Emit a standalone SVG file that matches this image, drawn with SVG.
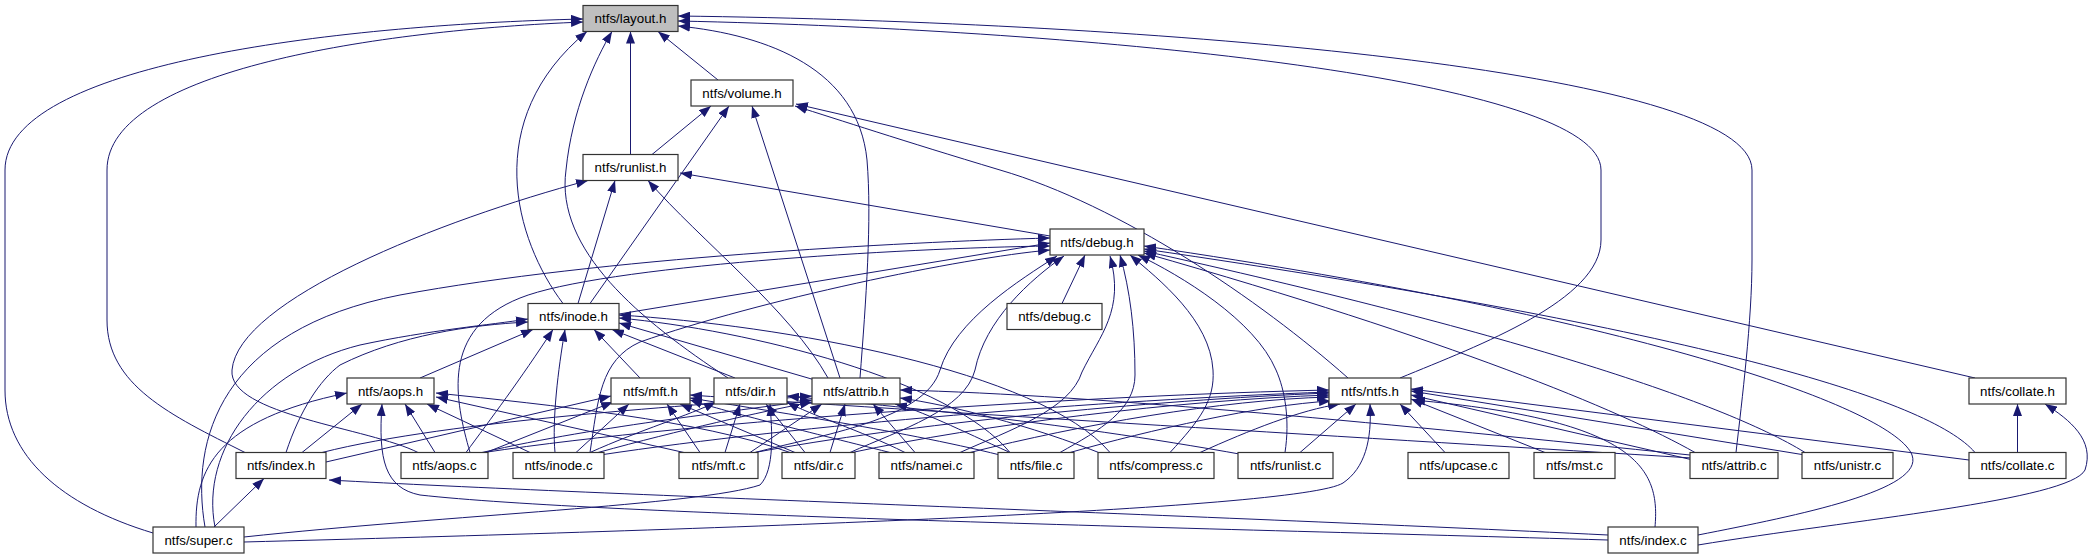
<svg xmlns="http://www.w3.org/2000/svg" width="2091" height="560" viewBox="0 0 2091 560">
<defs>
<marker id="arr" markerUnits="userSpaceOnUse" markerWidth="12" markerHeight="9" refX="12" refY="4.5" orient="auto">
<path d="M0,0 L12,4.5 L0,9 z" fill="#191970"/>
</marker>
<style>
.node rect{fill:#fff;stroke:#333;stroke-width:1.2}
.node.root rect{fill:#bfbfbf}
.node text{font-family:"Liberation Sans",Arial,sans-serif;font-size:13.33px;text-anchor:middle;fill:#000}
.edges path{fill:none;stroke:#191970;stroke-width:1;marker-end:url(#arr)}
</style>
</defs>
<rect width="2091" height="560" fill="#fff"/>
<g id="edges" class="edges">
<path d="M718,80 L658,31.5"/>
<path d="M630.5,154.5 L630.5,31.5"/>
<path d="M563,303.5 C515,240 480,120 587,31.5"/>
<path d="M728,378 C640,320 555,250 566,170 C572,110 595,60 612,31.5"/>
<path d="M860,378 C866,300 872,220 867,160 C858,70 770,35 678,26"/>
<path d="M1400,378 C1480,345 1601,300 1601,240 L1601,170 C1601,80 1100,30 678,21"/>
<path d="M1736,452.5 C1742,400 1752,320 1752,260 L1752,170 C1752,70 1150,22 678,16"/>
<path d="M245,452.5 C170,415 107,385 107,320 L107,170 C107,70 380,30 583,22"/>
<path d="M153,533 C60,505 5,455 5,390 L5,170 C5,65 330,25 583,19"/>
<path d="M652,154.5 L711,106"/>
<path d="M590,303.5 L729,106"/>
<path d="M840,378 L752,106"/>
<path d="M1348,378 C1260,300 1120,205 1000,170 C900,140 840,120 795,106"/>
<path d="M1975,378 L796,104"/>
<path d="M1050,236 L680,173"/>
<path d="M578,303.5 L615,180.5"/>
<path d="M828,378 C790,310 700,240 648,180.5"/>
<path d="M418,452.5 C370,428 228,415 232,370 C238,300 440,220 588,180.5"/>
<path d="M619,314 L1050,243"/>
<path d="M1062,303.5 L1085,255"/>
<path d="M470,452.5 C455,400 440,330 520,298 C600,266 900,248 1050,246"/>
<path d="M205,527 C190,440 220,330 400,295 C600,258 900,242 1050,238"/>
<path d="M590,452.5 C598,400 600,360 640,342 C760,300 960,258 1050,250"/>
<path d="M755,452.5 C820,435 925,420 940,370 C955,320 1020,280 1057,256"/>
<path d="M850,452.5 C900,430 965,410 975,370 C985,320 1030,280 1064,256"/>
<path d="M960,452.5 C1010,430 1070,410 1082,372 C1100,335 1125,310 1110,256"/>
<path d="M1060,452.5 C1100,430 1135,410 1135,375 C1135,330 1130,290 1120,255"/>
<path d="M1170,452.5 C1200,420 1215,400 1213,370 C1210,320 1160,280 1130,255"/>
<path d="M1285,452.5 C1290,420 1285,390 1276,370 C1255,320 1180,275 1138,255"/>
<path d="M1695,452.5 C1620,410 1450,340 1144,253"/>
<path d="M1805,452.5 C1720,400 1500,330 1144,251"/>
<path d="M1975,452.5 C1930,400 1700,330 1144,249"/>
<path d="M1698,535 C1800,515 1925,490 1912,455 C1895,410 1650,320 1144,246"/>
<path d="M420,378 L533,329.5"/>
<path d="M640,378 L594,329.5"/>
<path d="M735,378 L612,329.5"/>
<path d="M815,380 L619,323"/>
<path d="M286,452.5 C300,410 320,380 340,365 C400,335 470,325 528,322"/>
<path d="M466,452.5 C490,420 520,380 553,329.5"/>
<path d="M555,452.5 C552,420 558,370 565,329.5"/>
<path d="M1010,452.5 C950,380 750,330 619,318"/>
<path d="M1110,452.5 C1040,370 780,325 619,315"/>
<path d="M215,527 C200,450 260,370 360,345 C430,330 490,325 528,319"/>
<path d="M302,452.5 L362,404"/>
<path d="M435,452.5 L405,404"/>
<path d="M530,452.5 L427,404"/>
<path d="M684,452.5 L436,397"/>
<path d="M790,452.5 C700,420 550,405 436,393"/>
<path d="M196,527 C195,470 215,420 347,393"/>
<path d="M1608,540 C1200,528 600,515 420,495 C385,488 378,460 382,404"/>
<path d="M326,462 L611,396"/>
<path d="M486,452.5 L613,402"/>
<path d="M576,452.5 L629,404"/>
<path d="M700,452.5 L667,404"/>
<path d="M795,452.5 L680,404"/>
<path d="M890,452.5 C800,430 720,410 690,400"/>
<path d="M1000,455 C900,430 750,408 690,398"/>
<path d="M1692,458 C1400,440 900,410 690,395"/>
<path d="M590,452.5 C640,430 690,415 716,402"/>
<path d="M725,452.5 L740,404"/>
<path d="M805,452.5 L766,404"/>
<path d="M905,452.5 C860,430 810,415 787,402"/>
<path d="M1245,455 C1050,420 880,405 787,396"/>
<path d="M244,537 C450,515 700,505 760,485 C775,470 772,430 770,404"/>
<path d="M322,452.5 C450,420 700,405 812,396"/>
<path d="M482,452.5 C600,425 750,410 812,400"/>
<path d="M598,452.5 C680,430 760,412 812,402"/>
<path d="M750,452.5 L822,404"/>
<path d="M830,452.5 L845,404"/>
<path d="M915,452.5 L873,404"/>
<path d="M1010,452.5 C960,430 920,410 895,404"/>
<path d="M1105,455 C1030,425 950,405 900,398"/>
<path d="M1690,455 C1400,425 1100,395 900,390"/>
<path d="M484,452.5 C700,420 1100,395 1329,390"/>
<path d="M600,455 C800,425 1100,400 1329,392"/>
<path d="M755,452.5 C900,425 1150,400 1329,393"/>
<path d="M852,452.5 C980,425 1180,400 1329,395"/>
<path d="M970,452.5 C1080,425 1220,400 1329,397"/>
<path d="M1070,452.5 C1150,430 1260,405 1331,401"/>
<path d="M1200,452.5 C1250,430 1300,410 1340,404"/>
<path d="M1300,452.5 L1356,404"/>
<path d="M244,542 C700,530 1300,510 1343,483 C1365,468 1372,440 1370,404"/>
<path d="M1445,452.5 L1400,404"/>
<path d="M1545,452.5 L1411,399"/>
<path d="M1693,460 L1411,395"/>
<path d="M1805,455 L1411,391"/>
<path d="M1969,460 L1411,389"/>
<path d="M1655,527 C1660,470 1640,420 1413,400"/>
<path d="M2017.5,452.5 L2017.5,404"/>
<path d="M1698,545 C1850,520 2070,500 2085,470 C2095,440 2070,420 2045,404"/>
<path d="M214,527 L264,478.5"/>
<path d="M1608,535 C1200,515 600,495 329,480"/>
</g>
<g id="n_layout_h" class="node root"><rect x="583" y="5.5" width="95" height="26"/><text x="630.5" y="23">ntfs/layout.h</text></g>
<g id="n_volume_h" class="node"><rect x="691" y="80" width="102" height="26"/><text x="742" y="97.5">ntfs/volume.h</text></g>
<g id="n_runlist_h" class="node"><rect x="583" y="154.5" width="95" height="26"/><text x="630.5" y="172">ntfs/runlist.h</text></g>
<g id="n_debug_h" class="node"><rect x="1050" y="229" width="94" height="26"/><text x="1097" y="246.5">ntfs/debug.h</text></g>
<g id="n_inode_h" class="node"><rect x="528" y="303.5" width="91" height="26"/><text x="573.5" y="321">ntfs/inode.h</text></g>
<g id="n_debug_c" class="node"><rect x="1007" y="303.5" width="95" height="26"/><text x="1054.5" y="321">ntfs/debug.c</text></g>
<g id="n_aops_h" class="node"><rect x="347" y="378" width="87" height="26"/><text x="390.5" y="395.5">ntfs/aops.h</text></g>
<g id="n_mft_h" class="node"><rect x="611" y="378" width="79" height="26"/><text x="650.5" y="395.5">ntfs/mft.h</text></g>
<g id="n_dir_h" class="node"><rect x="714" y="378" width="73" height="26"/><text x="750.5" y="395.5">ntfs/dir.h</text></g>
<g id="n_attrib_h" class="node"><rect x="812" y="378" width="88" height="26"/><text x="856" y="395.5">ntfs/attrib.h</text></g>
<g id="n_ntfs_h" class="node"><rect x="1329" y="378" width="82" height="26"/><text x="1370" y="395.5">ntfs/ntfs.h</text></g>
<g id="n_collate_h" class="node"><rect x="1969" y="378" width="97" height="26"/><text x="2017.5" y="395.5">ntfs/collate.h</text></g>
<g id="n_index_h" class="node"><rect x="236" y="452.5" width="90" height="26"/><text x="281" y="470">ntfs/index.h</text></g>
<g id="n_aops_c" class="node"><rect x="401" y="452.5" width="87" height="26"/><text x="444.5" y="470">ntfs/aops.c</text></g>
<g id="n_inode_c" class="node"><rect x="513" y="452.5" width="91" height="26"/><text x="558.5" y="470">ntfs/inode.c</text></g>
<g id="n_mft_c" class="node"><rect x="679" y="452.5" width="79" height="26"/><text x="718.5" y="470">ntfs/mft.c</text></g>
<g id="n_dir_c" class="node"><rect x="782" y="452.5" width="73" height="26"/><text x="818.5" y="470">ntfs/dir.c</text></g>
<g id="n_namei_c" class="node"><rect x="879" y="452.5" width="95" height="26"/><text x="926.5" y="470">ntfs/namei.c</text></g>
<g id="n_file_c" class="node"><rect x="998" y="452.5" width="76" height="26"/><text x="1036" y="470">ntfs/file.c</text></g>
<g id="n_compress_c" class="node"><rect x="1098" y="452.5" width="116" height="26"/><text x="1156" y="470">ntfs/compress.c</text></g>
<g id="n_runlist_c" class="node"><rect x="1238" y="452.5" width="95" height="26"/><text x="1285.5" y="470">ntfs/runlist.c</text></g>
<g id="n_upcase_c" class="node"><rect x="1408" y="452.5" width="101" height="26"/><text x="1458.5" y="470">ntfs/upcase.c</text></g>
<g id="n_mst_c" class="node"><rect x="1534" y="452.5" width="81" height="26"/><text x="1574.5" y="470">ntfs/mst.c</text></g>
<g id="n_attrib_c" class="node"><rect x="1690" y="452.5" width="88" height="26"/><text x="1734" y="470">ntfs/attrib.c</text></g>
<g id="n_unistr_c" class="node"><rect x="1802" y="452.5" width="91" height="26"/><text x="1847.5" y="470">ntfs/unistr.c</text></g>
<g id="n_collate_c" class="node"><rect x="1969" y="452.5" width="97" height="26"/><text x="2017.5" y="470">ntfs/collate.c</text></g>
<g id="n_super_c" class="node"><rect x="153" y="527" width="91" height="26"/><text x="198.5" y="544.5">ntfs/super.c</text></g>
<g id="n_index_c" class="node"><rect x="1608" y="527" width="90" height="26"/><text x="1653" y="544.5">ntfs/index.c</text></g>
</svg>
